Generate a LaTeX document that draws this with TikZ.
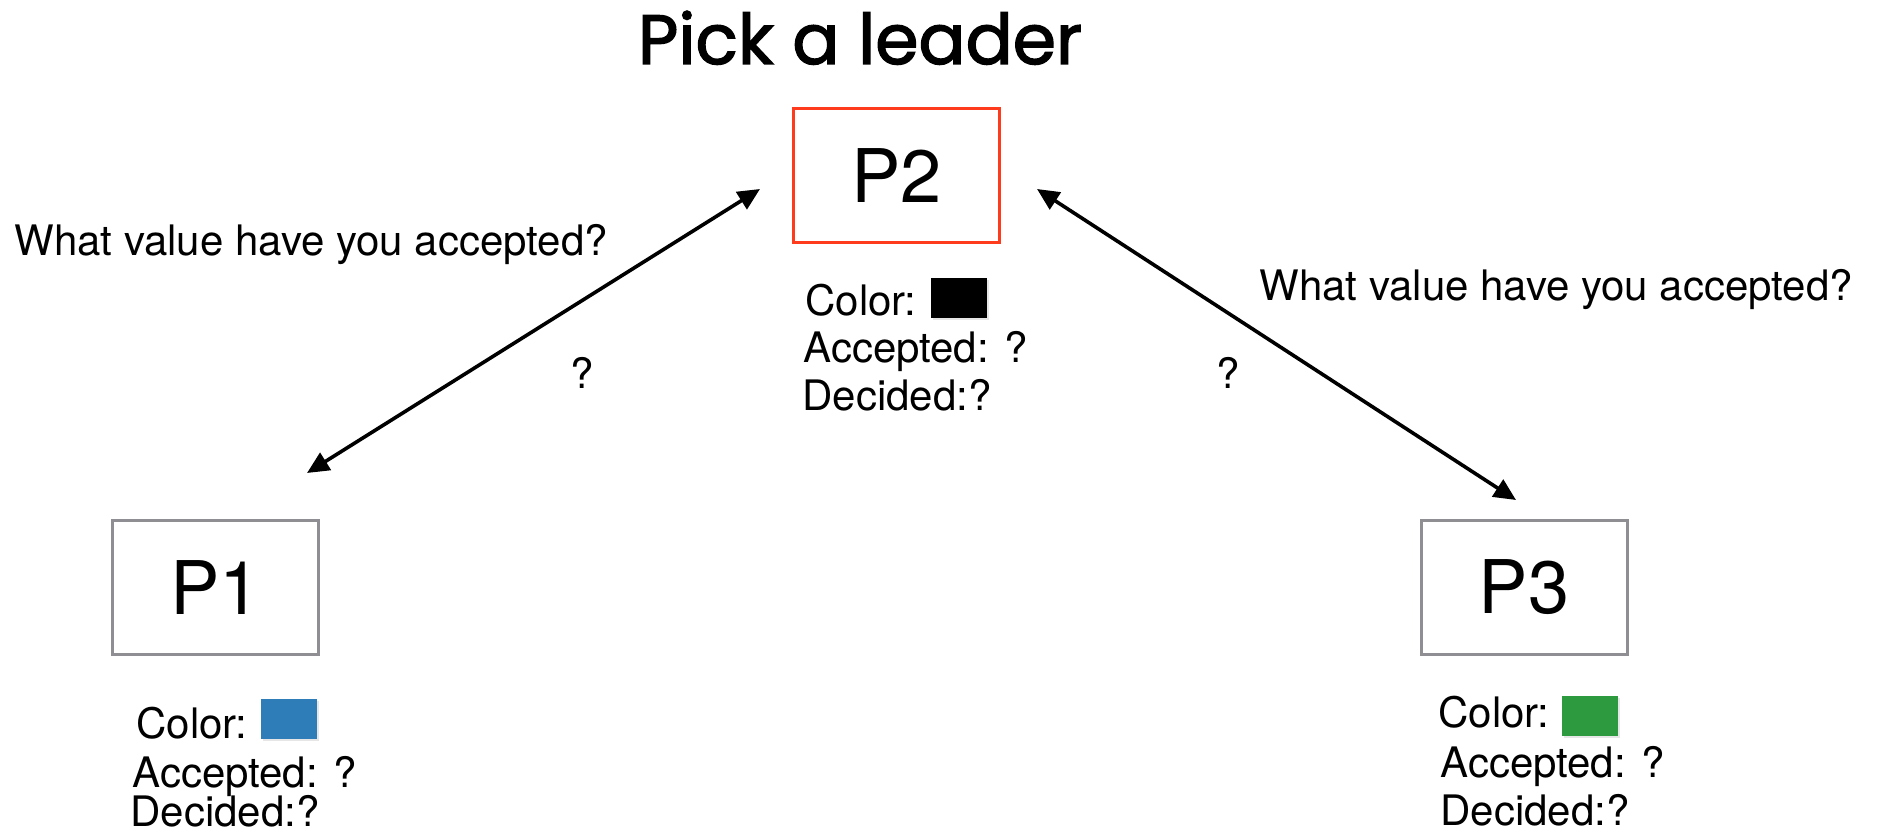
\documentclass[tikz,border=0pt]{standalone}
\usepackage{fontspec}
\usepackage{graphicx}
\setmainfont{TeX Gyre Heros}
\newfontfamily\titlefont[FakeBold=2]{Poppins}
\usetikzlibrary{arrows.meta,shadows}
\definecolor{leaderred}{HTML}{FF3B1D}
\definecolor{boxgray}{HTML}{8E8E93}
\definecolor{swblue}{HTML}{2F7DB8}
\definecolor{swgreen}{HTML}{2E9A40}
\begin{document}
\begin{tikzpicture}[x=0.5pt,y=-0.5pt,
  proc/.style={draw=boxgray, line width=1.5pt, minimum width=103pt,
    minimum height=67pt, inner sep=0pt, font=\fontsize{37}{44}\selectfont},
  info/.style={anchor=base west, inner sep=0pt, font=\fontsize{21}{25}\selectfont},
  swatch/.style={minimum width=28pt, minimum height=20pt, inner sep=0pt,
    anchor=north west,
    drop shadow={shadow xshift=0.7pt, shadow yshift=-0.7pt, opacity=0.2}},
  msg/.style={anchor=base west, inner sep=0pt, font=\fontsize{21}{25}\selectfont},
  qmark/.style={inner sep=0pt, font=\fontsize{21}{25}\selectfont},
  link/.style={line width=1.8pt,
    {Triangle[length=11pt,width=10pt]}-{Triangle[length=11pt,width=10pt]}}
]
\useasboundingbox (0,0) rectangle (1878,840);

% title
\node[anchor=base, inner sep=0pt] (title) at (860,64)
  {\resizebox{222pt}{!}{\titlefont Pick a leader}};

% processes
\node[proc, draw=leaderred] (p2) at (896.5,175.5) {P2};
\node[proc] (p1) at (215.5,587.5) {P1};
\node[proc] (p3) at (1524,587) {P3};

% state of P2
\node[info] (p2c) at (805,315) {Color:};
\node[swatch, fill=black] (p2s) at (931,278) {};
\node[info] (p2a) at (803,362) {Accepted: ?};
\node[info] (p2d) at (802,410) {Decided:?};

% state of P1
\node[info] (p1c) at (136,738) {Color:};
\node[swatch, fill=swblue] (p1s) at (261,699) {};
\node[info] (p1a) at (132,787) {Accepted: ?};
\node[info] (p1d) at (130,826) {Decided:?};

% state of P3
\node[info] (p3c) at (1438,727) {Color:};
\node[swatch, fill=swgreen] (p3s) at (1562,696) {};
\node[info] (p3a) at (1440,777) {Accepted: ?};
\node[info] (p3d) at (1440,825) {Decided:?};

% messages between the leader and the others
\coordinate (a1) at (307,473);
\coordinate (a2) at (760,189);
\coordinate (b1) at (1037,189);
\coordinate (b2) at (1516,500);
\draw[link] (a1) -- (a2);
\draw[link] (b1) -- (b2);

\node[msg] (q1) at (14,255) {What value have you accepted?};
\node[msg] (q2) at (1259,300) {What value have you accepted?};
\node[qmark] (r1) at (582,373) {?};
\node[qmark] (r2) at (1228,373) {?};
\end{tikzpicture}
\end{document}
